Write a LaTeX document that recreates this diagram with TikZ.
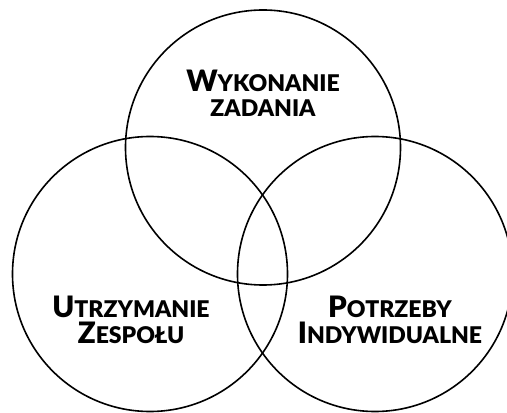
\documentclass[tikz,border=0pt]{standalone}
\usepackage{xcolor}
\usepackage{fontspec}
\setmainfont{Lato}[BoldFont={Lato Black}]
\usepackage{tikz}
\usetikzlibrary{shapes,positioning}

\newcommand{\duza}[1]{{\fontsize{29.5}{29}\selectfont #1}}
\newcommand{\mala}[1]{{\fontsize{23}{29}\selectfont #1}}

\begin{document}
\begin{tikzpicture}[x=1pt,y=1pt,
  krag/.style={draw=black,line width=1.6pt,circle,minimum size=275pt,inner sep=0pt},
  etykieta/.style={align=center,font=\bfseries\fontsize{23}{25}\selectfont,inner sep=0pt}]
\useasboundingbox (0,0) rectangle (507,413);
\node[krag] (zadanie) at (263,265.5) {};
\node[krag] (zespol) at (150,139) {};
\node[krag] (jednostka) at (375,139) {};

\node[etykieta] (tZadanie) at (263,320) {\duza{W}\mala{YKONANIE}\\\mala{ZADANIA}};
\node[etykieta] (tZespol) at (131,93) {\duza{U}\mala{TRZYMANIE}\\[1pt]\duza{Z}\mala{ESPOŁU}};
\node[etykieta] (tJednostka) at (390,93) {\duza{P}\mala{OTRZEBY}\\[1pt]\duza{I}\mala{NDYWIDUALNE}};
\end{tikzpicture}
\end{document}
